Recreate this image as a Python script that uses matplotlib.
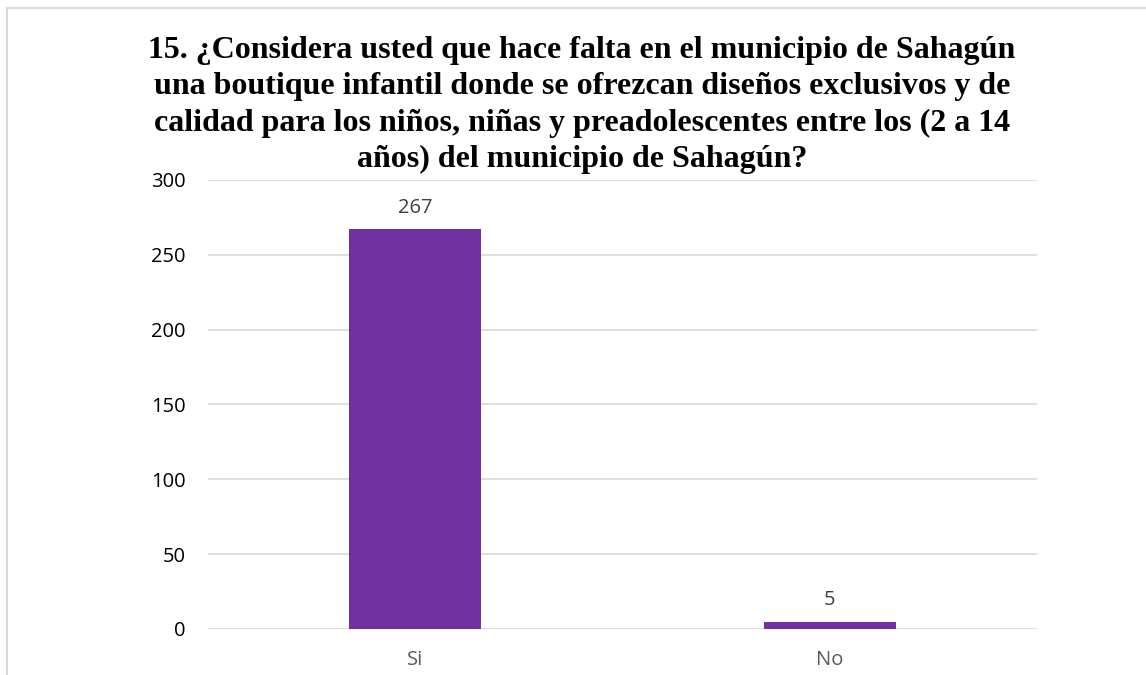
import matplotlib
matplotlib.use("Agg")
import matplotlib.pyplot as plt
from matplotlib.patches import Rectangle

categories = ["Si", "No"]
values = [267, 5]
title = ("15. ¿Considera usted que hace falta en el municipio de Sahagún\n"
         "una boutique infantil donde se ofrezcan diseños exclusivos y de\n"
         "calidad para los niños, niñas y preadolescentes entre los (2 a 14\n"
         "años) del municipio de Sahagún?")
yticks = [0, 50, 100, 150, 200, 250, 300]

W, H = 1146, 675
fig = plt.figure(figsize=(W / 100, H / 100), dpi=100)
fig.patch.set_facecolor("white")

# chart frame
fig.add_artist(Rectangle((7 / W, -0.5), 2.0, (H - 8) / H + 0.5,
                         transform=fig.transFigure, fill=False,
                         edgecolor="#D9D9D9", linewidth=1.5))

ax = fig.add_axes([208 / W, 46 / H, 829 / W, 449 / H])
x = range(len(categories))
bars = ax.bar(x, values, width=0.318, color="#7030A0", zorder=3)
ax.set_xlim(-0.5, len(categories) - 0.5)
ax.set_ylim(0, 300)
ax.set_yticks(yticks)
ax.set_xticks(list(x))
ax.set_xticklabels(categories)
ax.grid(axis="y", color="#D9D9D9", linewidth=1.2, zorder=0)
for s in ax.spines.values():
    s.set_visible(False)
ax.tick_params(axis="both", length=0)
ax.tick_params(axis="y", pad=16, labelsize=14.5, labelcolor="#000000")
ax.tick_params(axis="x", pad=15, labelsize=14.5, labelcolor="#595959")
for lbl in ax.get_xticklabels() + ax.get_yticklabels():
    lbl.set_fontfamily("Open Sans")

for b, v in zip(bars, values):
    ax.annotate(str(v), (b.get_x() + b.get_width() / 2, v),
                xytext=(0, 8), textcoords="offset points",
                ha="center", va="bottom", fontsize=14.5,
                color="#404040", family="Open Sans")

fig.text(582 / W, (H - 36) / H, title, ha="center", va="top",
         fontsize=23, fontweight="bold", family="Liberation Serif",
         linespacing=1.33)

fig.savefig("out.png", dpi=100)
